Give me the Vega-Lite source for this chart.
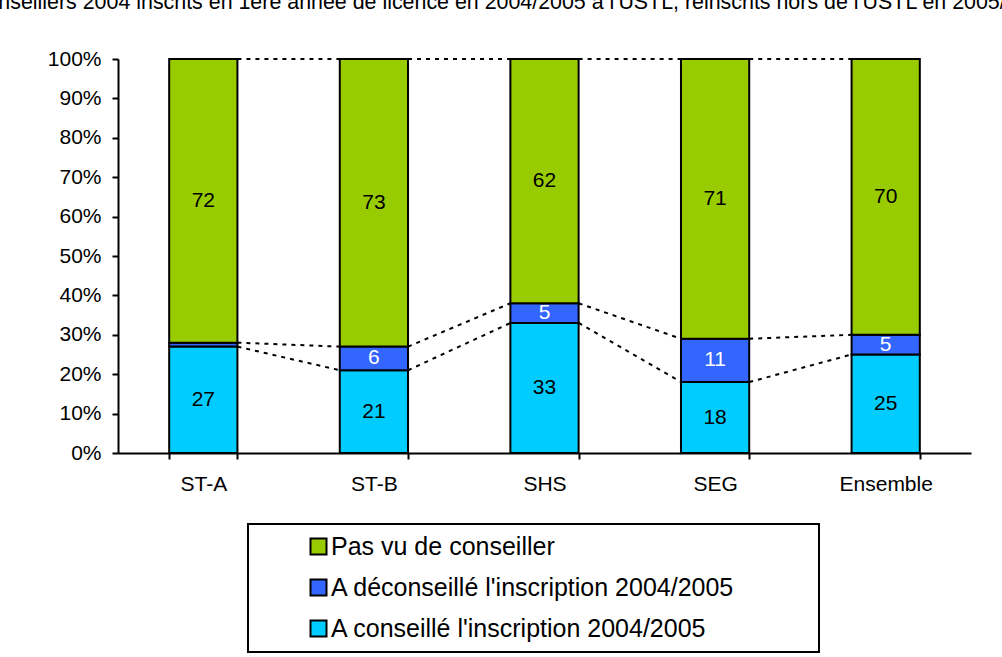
{
  "$schema": "https://vega.github.io/schema/vega-lite/v6.json",
  "width": 853,
  "height": 394,
  "autosize": {"type": "none"},
  "padding": {"left": 118, "top": 59, "right": 31, "bottom": 204},
  "background": "white",
  "config": {
    "view": {"stroke": null},
    "font": "Liberation Sans",
    "axis": {
      "domainColor": "black",
      "domainWidth": 2,
      "tickColor": "black",
      "tickWidth": 2,
      "tickSize": 6,
      "labelFontSize": 21,
      "labelFont": "Liberation Sans",
      "labelColor": "black",
      "grid": false
    },
    "axisY": {"labelOverlap": false, "labelPadding": 11, "tickCount": 11},
    "axisX": {"labelPadding": 14, "labelAngle": 0, "labelAlign": "center", "tickBand": "extent"},
    "legend": {"strokeWidth": 2}
  },
  "title": {
    "text": "conseillers 2004 inscrits en 1ère année de licence en 2004/2005 à l'USTL, réinscrits hors de l'USTL en 2005/2006",
    "font": "Liberation Sans",
    "fontSize": 21.4,
    "fontWeight": "normal",
    "color": "black",
    "anchor": "middle",
    "frame": "group",
    "baseline": "alphabetic",
    "offset": 18,
    "dx": -30
  },
  "datasets": {
    "bars": [
      {"groupe": "ST-A", "serie": "A conseillé l'inscription 2004/2005", "pct": 27},
      {"groupe": "ST-A", "serie": "A déconseillé l'inscription 2004/2005", "pct": 1},
      {"groupe": "ST-A", "serie": "Pas vu de conseiller", "pct": 72},
      {"groupe": "ST-B", "serie": "A conseillé l'inscription 2004/2005", "pct": 21},
      {"groupe": "ST-B", "serie": "A déconseillé l'inscription 2004/2005", "pct": 6},
      {"groupe": "ST-B", "serie": "Pas vu de conseiller", "pct": 73},
      {"groupe": "SHS", "serie": "A conseillé l'inscription 2004/2005", "pct": 33},
      {"groupe": "SHS", "serie": "A déconseillé l'inscription 2004/2005", "pct": 5},
      {"groupe": "SHS", "serie": "Pas vu de conseiller", "pct": 62},
      {"groupe": "SEG", "serie": "A conseillé l'inscription 2004/2005", "pct": 18},
      {"groupe": "SEG", "serie": "A déconseillé l'inscription 2004/2005", "pct": 11},
      {"groupe": "SEG", "serie": "Pas vu de conseiller", "pct": 71},
      {"groupe": "Ensemble", "serie": "A conseillé l'inscription 2004/2005", "pct": 25},
      {"groupe": "Ensemble", "serie": "A déconseillé l'inscription 2004/2005", "pct": 5},
      {"groupe": "Ensemble", "serie": "Pas vu de conseiller", "pct": 70}
    ],
    "lignes": [
      {"de": "ST-A", "vers": "ST-B", "haut1": 27, "haut2": 21},
      {"de": "ST-A", "vers": "ST-B", "haut1": 28, "haut2": 27},
      {"de": "ST-A", "vers": "ST-B", "haut1": 100, "haut2": 100},
      {"de": "ST-B", "vers": "SHS", "haut1": 21, "haut2": 33},
      {"de": "ST-B", "vers": "SHS", "haut1": 27, "haut2": 38},
      {"de": "ST-B", "vers": "SHS", "haut1": 100, "haut2": 100},
      {"de": "SHS", "vers": "SEG", "haut1": 33, "haut2": 18},
      {"de": "SHS", "vers": "SEG", "haut1": 38, "haut2": 29},
      {"de": "SHS", "vers": "SEG", "haut1": 100, "haut2": 100},
      {"de": "SEG", "vers": "Ensemble", "haut1": 18, "haut2": 25},
      {"de": "SEG", "vers": "Ensemble", "haut1": 29, "haut2": 30},
      {"de": "SEG", "vers": "Ensemble", "haut1": 100, "haut2": 100}
    ]
  },
  "layer": [
    {
      "data": {"name": "lignes"},
      "mark": {"type": "rule", "strokeDash": [4, 5], "strokeWidth": 2, "color": "black"},
      "encoding": {
        "x": {
          "field": "de",
          "type": "nominal",
          "bandPosition": 1,
          "sort": null,
          "scale": {"domain": ["ST-A", "ST-B", "SHS", "SEG", "Ensemble"], "paddingInner": 0.6, "paddingOuter": 0.3},
          "axis": {"title": null}
        },
        "x2": {"field": "vers", "bandPosition": 0},
        "y": {
          "field": "haut1",
          "type": "quantitative",
          "scale": {"domain": [0, 100], "nice": false},
          "axis": {
            "title": null,
            "values": [0, 10, 20, 30, 40, 50, 60, 70, 80, 90, 100],
            "tickCount": 11,
            "labelExpr": "datum.value + '%'",
            "labelOverlap": false
          }
        },
        "y2": {"field": "haut2"}
      }
    },
    {
      "data": {"name": "bars"},
      "mark": {"type": "bar", "stroke": "black", "strokeWidth": 2},
      "encoding": {
        "x": {"field": "groupe", "type": "nominal", "sort": null, "axis": {"title": null}},
        "y": {
          "field": "pct",
          "type": "quantitative",
          "stack": "zero",
          "axis": {
            "title": null,
            "values": [0, 10, 20, 30, 40, 50, 60, 70, 80, 90, 100],
            "tickCount": 11,
            "labelExpr": "datum.value + '%'",
            "labelOverlap": false
          }
        },
        "color": {
          "field": "serie",
          "type": "nominal",
          "scale": {
            "domain": ["Pas vu de conseiller", "A déconseillé l'inscription 2004/2005", "A conseillé l'inscription 2004/2005"],
            "range": ["#99CC00", "#3366FF", "#00CCFF"]
          },
          "legend": {
            "title": "\u00a0",
            "titleOrient": "right",
            "titlePadding": 74,
            "titleFontSize": 25,
            "orient": "none",
            "legendX": 130,
            "legendY": 465,
            "strokeColor": "black",
            "padding": 10,
            "symbolType": "square",
            "symbolSize": 256,
            "symbolStrokeColor": "black",
            "symbolStrokeWidth": 2,
            "symbolOffset": 48,
            "labelFontSize": 25,
            "labelFont": "Liberation Sans",
            "labelColor": "black",
            "labelOffset": 0,
            "labelLimit": 800,
            "rowPadding": 15
          }
        },
        "order": {"field": "serie", "sort": "ascending"}
      }
    },
    {
      "data": {"name": "bars"},
      "mark": {"type": "text", "fontSize": 21, "font": "Liberation Sans", "baseline": "middle"},
      "encoding": {
        "x": {"field": "groupe", "type": "nominal", "sort": null},
        "y": {"field": "pct", "type": "quantitative", "stack": "zero", "bandPosition": 0.5},
        "detail": {"field": "serie"},
        "order": {"field": "serie", "sort": "ascending"},
        "text": {"condition": {"test": "datum.pct < 2", "value": ""}, "field": "pct", "type": "quantitative"},
        "color": {"condition": {"test": "datum.serie === \"A déconseillé l'inscription 2004/2005\"", "value": "white"}, "value": "black"}
      }
    }
  ]
}
